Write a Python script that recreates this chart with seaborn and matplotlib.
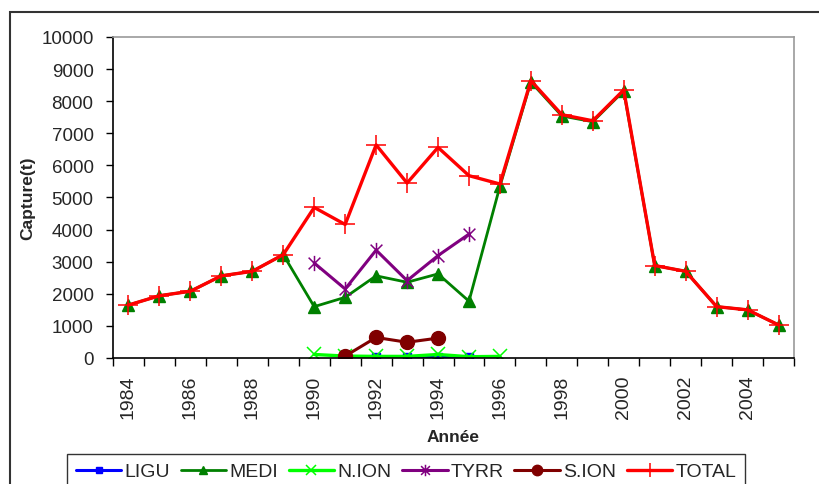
import numpy as np
import pandas as pd
import matplotlib
matplotlib.use("Agg")
import matplotlib.pyplot as plt
from matplotlib.path import Path
from matplotlib.patches import Rectangle
import seaborn as sns

years = list(range(1984, 2006))

ligu_years = [1991, 1992, 1993, 1994, 1995]
ligu = [40, 40, 30, 20, 30]

medi_years = list(range(1984, 2006))
medi = [1650, 1940, 2080, 2560, 2700, 3220, 1600, 1890, 2560, 2360, 2620, 1770,
        5350, 8600, 7540, 7360, 8320, 2880, 2700, 1600, 1500, 1030]

nion_years = [1990, 1991, 1992, 1993, 1994, 1995, 1996]
nion = [110, 60, 50, 50, 110, 40, 50]

tyrr_years = [1990, 1991, 1992, 1993, 1994, 1995]
tyrr = [2960, 2150, 3360, 2410, 3190, 3860]

sion_years = [1991, 1992, 1993, 1994]
sion = [60, 640, 490, 620]

total_years = list(range(1984, 2006))
total = [1650, 1940, 2080, 2560, 2700, 3220, 4690, 4160, 6640, 5450, 6560, 5680,
         5420, 8640, 7580, 7390, 8350, 2880, 2700, 1600, 1500, 1030]

sns.set_style("white")
plt.rcParams['font.family'] = ['Liberation Sans', 'DejaVu Sans']

# Excel-style asterisk: X plus a vertical bar
star = Path([(-1, -1), (1, 1), (-1, 1), (1, -1), (0, -1.3), (0, 1.3)],
            [Path.MOVETO, Path.LINETO, Path.MOVETO, Path.LINETO, Path.MOVETO, Path.LINETO])

series = [
    ("LIGU", ligu_years, ligu, "#0000FF", "s", 6, 2.2, 1.0),
    ("MEDI", medi_years, medi, "#008000", "^", 8, 2.0, 1.0),
    ("N.ION", nion_years, nion, "#00FF00", "x", 10, 2.4, 1.1),
    ("TYRR", tyrr_years, tyrr, "#800080", star, 11, 2.2, 1.1),
    ("S.ION", sion_years, sion, "#800000", "o", 10, 2.2, 1.0),
    ("TOTAL", total_years, total, "#FF0000", "+", 14, 2.4, 1.1),
]

fig = plt.figure(figsize=(8.19, 4.85), dpi=100)
ax = fig.add_axes([113 / 819, 126 / 485, 681 / 819, 321 / 485])

for name, xs, ys, col, mk, ms, lw, mew in series:
    df = pd.DataFrame({"year": xs, "val": ys})
    sns.lineplot(data=df, x="year", y="val", ax=ax, color=col, marker=mk,
                 markersize=ms, linewidth=lw, markeredgecolor=col,
                 markeredgewidth=mew, label=name)

ax.set_xlim(1983.5, 2005.5)
ax.set_ylim(0, 10000)
ax.set_yticks(np.arange(0, 10001, 1000))
ax.set_xticks(years[::2])
ax.set_xticklabels([str(y) for y in years[::2]], rotation=90)
ax.set_xticks(np.arange(1983.5, 2006, 1), minor=True)
ax.tick_params(axis="x", which="major", length=0, pad=12, labelsize=14)
ax.tick_params(axis="x", which="minor", length=6, width=1, direction="out",
               bottom=True, color="black")
ax.tick_params(axis="y", length=5, width=1, direction="out", left=True,
               pad=9, labelsize=13.5, color="black")

for s in ["top", "right"]:
    ax.spines[s].set_color("#999999")
    ax.spines[s].set_linewidth(1.2)
for s in ["left", "bottom"]:
    ax.spines[s].set_color("black")
    ax.spines[s].set_linewidth(1.2)

ax.set_xlabel("Année", fontsize=12.5, fontweight="bold", labelpad=8)
ax.set_ylabel("Capture(t)", fontsize=12.5, fontweight="bold", labelpad=4)

leg = ax.legend(loc="upper left", bbox_to_anchor=(67 / 819, 1 - 455 / 485),
                bbox_transform=fig.transFigure, ncol=6, frameon=True,
                fontsize=14, handlelength=2.35, handletextpad=0.15,
                columnspacing=0.55, borderpad=0.45, borderaxespad=0,
                fancybox=False, markerscale=0.75)
leg.get_frame().set_edgecolor("black")
leg.get_frame().set_linewidth(1.0)

# outer chart border (only top and left visible in the crop)
fig.patches.append(Rectangle((10 / 819, -0.2), 1.2, 1.2 - 13 / 485,
                             transform=fig.transFigure, fill=False,
                             edgecolor="#333333", linewidth=1.5))

fig.savefig("out.png", dpi=100)
